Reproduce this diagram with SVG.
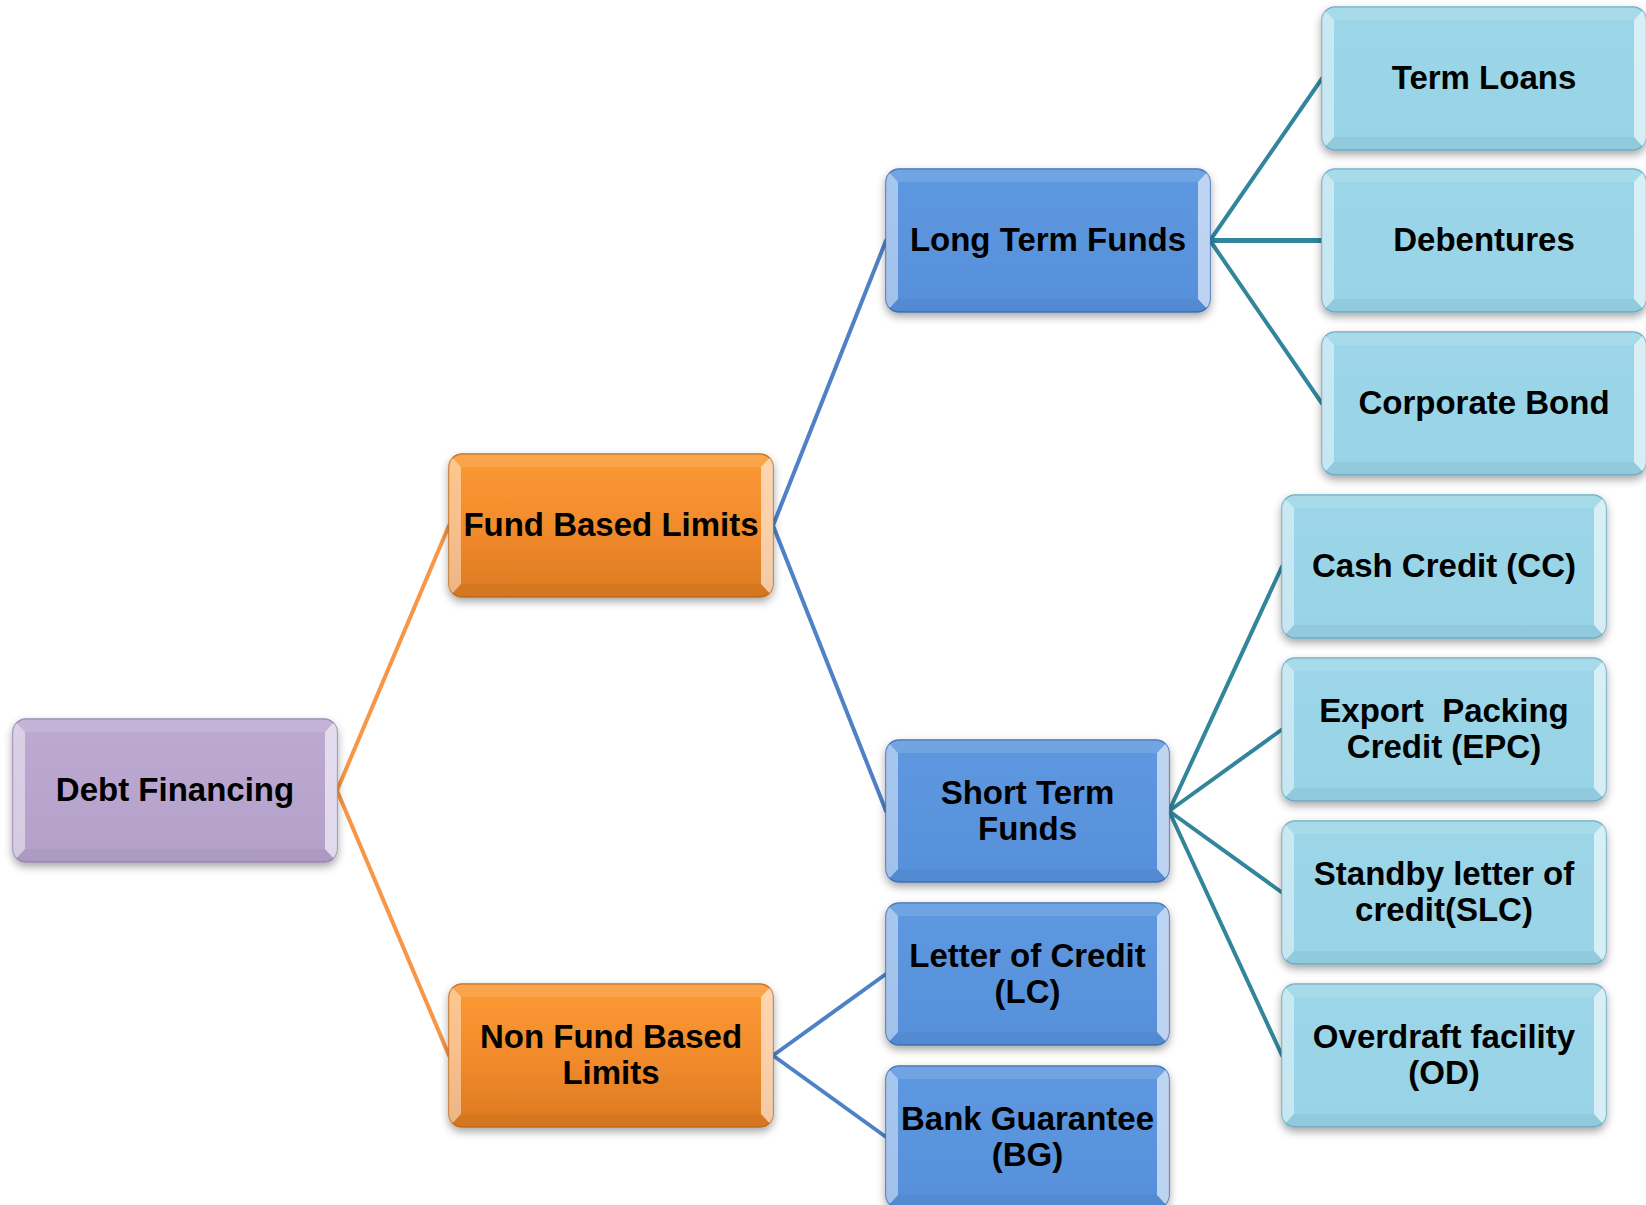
<svg xmlns="http://www.w3.org/2000/svg" xmlns:xlink="http://www.w3.org/1999/xlink" width="1646" height="1205" viewBox="0 0 1646 1205">
<style>
.lbl{font-family:"Liberation Sans",Arial,sans-serif;font-weight:bold;font-size:33px;fill:#000;text-anchor:middle}
.base{filter:url(#shadow);stroke-width:1.5}
.purple{fill:url(#gPurple);stroke:#9a88b2}
.orange{fill:url(#gOrange);stroke:#c86d1c}
.blue{fill:url(#gBlue);stroke:#3f72b8}
.lblue{fill:url(#gLBlue);stroke:#6fb0c6}
.conn{fill:none;stroke-width:4;stroke-linecap:round}
.c-or{stroke:#f79646}
.c-bl{stroke:#4f81c8}
.c-tl{stroke:#31869c}
</style>
<defs>
<filter id="shadow" x="-10%" y="-10%" width="120%" height="130%">
<feDropShadow dx="0" dy="4" stdDeviation="4" flood-color="#000" flood-opacity="0.35"/>
</filter>
<linearGradient id="gPurple" x1="0" y1="0" x2="0" y2="1"><stop offset="0" stop-color="#bcaad2"/><stop offset="1" stop-color="#b3a1ca"/></linearGradient>
<linearGradient id="gOrange" x1="0" y1="0" x2="0" y2="1"><stop offset="0" stop-color="#fb9a34"/><stop offset="0.5" stop-color="#f28b2c"/><stop offset="1" stop-color="#dc7a22"/></linearGradient>
<linearGradient id="gBlue" x1="0" y1="0" x2="0" y2="1"><stop offset="0" stop-color="#5d98e0"/><stop offset="1" stop-color="#5790da"/></linearGradient>
<linearGradient id="gLBlue" x1="0" y1="0" x2="0" y2="1"><stop offset="0" stop-color="#9cd6e8"/><stop offset="1" stop-color="#98d3e6"/></linearGradient>
<clipPath id="clipA"><rect width="324" height="143" rx="13"/></clipPath>
<clipPath id="clipB"><rect width="283" height="142" rx="13"/></clipPath>
<g id="bevelA" clip-path="url(#clipA)">
<polygon points="0,0 12,13 12,130 0,143" fill="#fff" fill-opacity="0.45"/>
<polygon points="324,0 312,13 312,130 324,143" fill="#fff" fill-opacity="0.6"/>
<polygon points="0,0 324,0 312,13 12,13" fill="#fff" fill-opacity="0.12"/>
<polygon points="0,143 324,143 312,130 12,130" fill="#000" fill-opacity="0.04"/>
</g>
<g id="bevelB" clip-path="url(#clipB)">
<polygon points="0,0 12,13 12,129 0,142" fill="#fff" fill-opacity="0.45"/>
<polygon points="283,0 271,13 271,129 283,142" fill="#fff" fill-opacity="0.6"/>
<polygon points="0,0 283,0 271,13 12,13" fill="#fff" fill-opacity="0.12"/>
<polygon points="0,142 283,142 271,129 12,129" fill="#000" fill-opacity="0.04"/>
</g>
</defs>
<rect width="1646" height="1205" fill="#fff"/>

<g id="connectors">
<path class="conn c-or" d="M337,790.5 L449,525.5 M337,790.5 L449,1055.5"/>
<path class="conn c-bl" d="M773,525.5 L886,240.5 M773,525.5 L886,811"/>
<path class="conn c-bl" d="M773,1055.5 L886,974 M773,1055.5 L886,1137"/>
<path class="conn c-tl" d="M1210,240.5 L1322,78.5 M1210,240.5 L1322,403.5"/>
<path class="conn c-tl" d="M1210,240.5 L1322,240.5" style="stroke-width:5"/>
<path class="conn c-tl" d="M1169,811 L1282,566.5 M1169,811 L1282,729.5 M1169,811 L1282,892.5 M1169,811 L1282,1055.5"/>
</g>

<g id="n-debt" transform="translate(13,719)">
<rect class="base purple" width="324" height="143" rx="13"/><use xlink:href="#bevelA"/>
<text class="lbl" x="162" y="82">Debt Financing</text>
</g>
<g id="n-fund" transform="translate(449,454)">
<rect class="base orange" width="324" height="143" rx="13"/><use xlink:href="#bevelA"/>
<text class="lbl" x="162" y="82">Fund Based Limits</text>
</g>
<g id="n-nonfund" transform="translate(449,984)">
<rect class="base orange" width="324" height="143" rx="13"/><use xlink:href="#bevelA"/>
<text class="lbl" x="162" y="64">Non Fund Based</text>
<text class="lbl" x="162" y="100">Limits</text>
</g>
<g id="n-long" transform="translate(886,169)">
<rect class="base blue" width="324" height="143" rx="13"/><use xlink:href="#bevelA"/>
<text class="lbl" x="162" y="82">Long Term Funds</text>
</g>
<g id="n-short" transform="translate(886,740)">
<rect class="base blue" width="283" height="142" rx="13"/><use xlink:href="#bevelB"/>
<text class="lbl" x="141.5" y="63.5">Short Term</text>
<text class="lbl" x="141.5" y="99.5">Funds</text>
</g>
<g id="n-lc" transform="translate(886,903)">
<rect class="base blue" width="283" height="142" rx="13"/><use xlink:href="#bevelB"/>
<text class="lbl" x="141.5" y="63.5">Letter of Credit</text>
<text class="lbl" x="141.5" y="99.5">(LC)</text>
</g>
<g id="n-bg" transform="translate(886,1066)">
<rect class="base blue" width="283" height="142" rx="13"/><use xlink:href="#bevelB"/>
<text class="lbl" x="141.5" y="63.5">Bank Guarantee</text>
<text class="lbl" x="141.5" y="99.5">(BG)</text>
</g>
<g id="n-termloans" transform="translate(1322,7)">
<rect class="base lblue" width="324" height="143" rx="13"/><use xlink:href="#bevelA"/>
<text class="lbl" x="162" y="82">Term Loans</text>
</g>
<g id="n-debentures" transform="translate(1322,169)">
<rect class="base lblue" width="324" height="143" rx="13"/><use xlink:href="#bevelA"/>
<text class="lbl" x="162" y="82">Debentures</text>
</g>
<g id="n-corporate" transform="translate(1322,332)">
<rect class="base lblue" width="324" height="143" rx="13"/><use xlink:href="#bevelA"/>
<text class="lbl" x="162" y="82">Corporate Bond</text>
</g>
<g id="n-cc" transform="translate(1282,495)">
<rect class="base lblue" width="324" height="143" rx="13"/><use xlink:href="#bevelA"/>
<text class="lbl" x="162" y="82">Cash Credit (CC)</text>
</g>
<g id="n-epc" transform="translate(1282,658)">
<rect class="base lblue" width="324" height="143" rx="13"/><use xlink:href="#bevelA"/>
<text class="lbl" x="162" y="64" style="white-space:pre">Export  Packing</text>
<text class="lbl" x="162" y="100">Credit (EPC)</text>
</g>
<g id="n-slc" transform="translate(1282,821)">
<rect class="base lblue" width="324" height="143" rx="13"/><use xlink:href="#bevelA"/>
<text class="lbl" x="162" y="64">Standby letter of</text>
<text class="lbl" x="162" y="100">credit(SLC)</text>
</g>
<g id="n-od" transform="translate(1282,984)">
<rect class="base lblue" width="324" height="143" rx="13"/><use xlink:href="#bevelA"/>
<text class="lbl" x="162" y="64">Overdraft facility</text>
<text class="lbl" x="162" y="100">(OD)</text>
</g>
</svg>
